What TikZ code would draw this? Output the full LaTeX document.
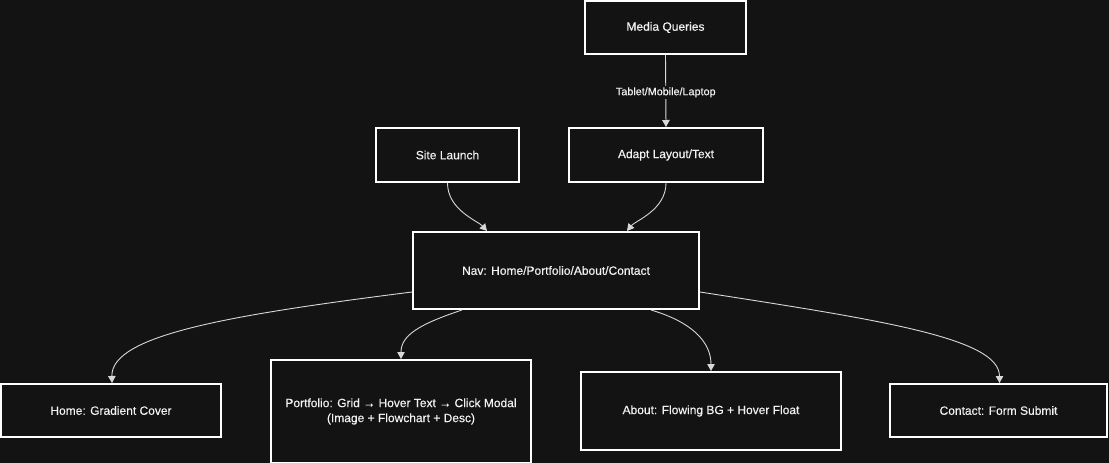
\documentclass[tikz,border=0pt]{standalone}
\usepackage{fontspec}
\setmainfont{Liberation Sans}
\newfontfamily\heavy{Liberation Sans}[FakeBold=0.3]
\usetikzlibrary{arrows.meta}
\definecolor{bg}{HTML}{131313}
\definecolor{txt}{HTML}{F2F2F2}
\definecolor{edge}{HTML}{D8D8D8}
\tikzset{
  box/.style={draw=white, line width=2pt, fill=bg, text=txt, inner sep=0pt,
    font=\heavy\fontsize{12}{15}\selectfont, align=center},
  conn/.style={draw=edge, line width=0.9pt, -{Triangle[width=7.5pt,length=7pt]}},
  lbl/.style={fill=bg, text=txt, inner sep=1.5pt, font=\heavy\fontsize{10.8}{13}\selectfont}
}
\begin{document}
\begin{tikzpicture}[x=1pt,y=-1pt]
\useasboundingbox[fill=bg] (0,0) rectangle (1109,463);
\node[box, minimum width=161pt, minimum height=53pt] (media) at (665.5,27.5) {Media Queries};
\node[box, minimum width=194pt, minimum height=54pt] (adapt) at (666,155) {Adapt Layout/Text};
\node[box, minimum width=143pt, minimum height=54pt] (site) at (447.5,155) {Site Launch};
\node[box, minimum width=286pt, minimum height=77pt] (nav) at (556,270.5) {Nav: Home/Portfolio/About/Contact};
\node[box, minimum width=220pt, minimum height=53pt] (home) at (111,410.5) {Home: Gradient Cover};
\node[box, minimum width=260pt, minimum height=103pt] (port) at (401,411.5) {Portfolio: Grid → Hover Text → Click Modal\\(Image + Flowchart + Desc)};
\node[box, minimum width=260pt, minimum height=78pt] (about) at (711,411) {About: Flowing BG + Hover Float};
\node[box, minimum width=217pt, minimum height=53pt] (contact) at (998.5,410.5) {Contact: Form Submit};

\draw[conn] (media.south) -- node[lbl, pos=0.52] {Tablet/Mobile/Laptop} (adapt.north);
\draw[conn] (site.south) .. controls (447.5,210) and (478,221) .. ([xshift=-69pt]nav.north);
\draw[conn] (adapt.south) .. controls (666,210) and (635,221) .. ([xshift=71pt]nav.north);
\draw[conn] ([yshift=-21.5pt]nav.west) .. controls (230,315) and (111,335) .. ([xshift=1pt]home.north);
\draw[conn] ([xshift=-94pt]nav.south) .. controls (420,324) and (401,335) .. (port.north);
\draw[conn] ([xshift=95pt]nav.south) .. controls (692,322) and (711,342) .. (about.north);
\draw[conn] ([yshift=-21.5pt]nav.east) .. controls (880,320) and (999.5,338) .. ([xshift=1pt]contact.north);
\end{tikzpicture}
\end{document}
